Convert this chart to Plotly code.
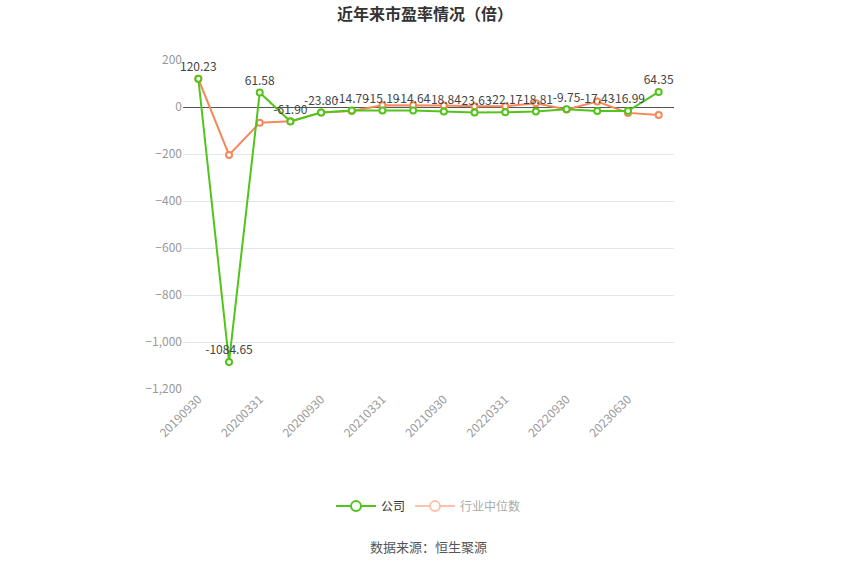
import plotly.graph_objects as go

dates = [
    "20190930", "20191231", "20200331", "20200630", "20200930", "20201231",
    "20210331", "20210630", "20210930", "20211231", "20220331", "20220630",
    "20220930", "20230331", "20230630", "20230930",
]
company_pe = [
    120.23, -1084.65, 61.58, -61.90, -23.80, -14.79, -15.19, -14.64,
    -18.84, -23.63, -22.17, -18.81, -9.75, -17.43, -16.99, 64.35,
]
industry_pe = [
    120.0, -204.0, -67.0, -61.0, -23.0, -17.0, 7.0, 7.0,
    6.0, 3.0, 3.0, 16.0, -11.0, 23.0, -25.0, -34.0,
]
tick_dates = dates[::2]

GREEN = "#52c41a"
ORANGE = "#f5875a"
FONT = "Noto Sans CJK SC"

fig = go.Figure()

fig.add_trace(go.Scatter(
    x=dates, y=industry_pe, mode="lines+markers", name="行业中位数",
    line=dict(color=ORANGE, width=2),
    marker=dict(symbol="circle", size=6, color="white", line=dict(color=ORANGE, width=2)),
    showlegend=False, cliponaxis=False,
))
fig.add_trace(go.Scatter(
    x=dates, y=company_pe, mode="lines+markers+text", name="公司",
    text=[f"{v:.2f}" for v in company_pe], textposition="top center",
    textfont=dict(color="#444", size=12, family=FONT),
    line=dict(color=GREEN, width=2),
    marker=dict(symbol="circle", size=6, color="white", line=dict(color=GREEN, width=2)),
    showlegend=False, cliponaxis=False,
))

# legend entries
fig.add_trace(go.Scatter(
    x=[None], y=[None], mode="lines+markers", name="公司",
    line=dict(color=GREEN, width=2),
    marker=dict(size=10, color="white", line=dict(color=GREEN, width=2)),
))
fig.add_trace(go.Scatter(
    x=[None], y=[None], mode="lines+markers",
    name="<span style='color:#aaa'>行业中位数</span>",
    line=dict(color="#fbc3ab", width=2),
    marker=dict(size=10, color="white", line=dict(color="#fbc3ab", width=2)),
))

fig.update_layout(
    width=850, height=574,
    margin=dict(l=183, r=176, t=60, b=185),
    paper_bgcolor="white", plot_bgcolor="white",
    font=dict(family=FONT, size=12, color="#333"),
    title=dict(text="<b>近年来市盈率情况（倍）</b>", x=0.5, xanchor="center",
               y=0.975, yanchor="middle", font=dict(size=16, color="#333")),
    legend=dict(orientation="h", x=0.5, xanchor="center", y=-0.356, yanchor="middle",
                font=dict(size=12, color="#333"), itemwidth=40),
    annotations=[dict(text="数据来源：恒生聚源", xref="paper", yref="paper",
                      x=0.5, y=-0.515, showarrow=False,
                      font=dict(size=13, color="#555"))],
)
fig.update_xaxes(
    type="category", range=[-0.5, len(dates) - 0.5],
    tickmode="array", tickvals=tick_dates, ticktext=tick_dates,
    tickangle=-45, tickfont=dict(color="#999", size=12),
    showgrid=False, showline=False, ticks="",
)
fig.update_yaxes(
    range=[-1200, 200], dtick=200, tickformat=",",
    tickfont=dict(color="#999", size=12),
    gridcolor="#e0e6f1", zeroline=True, zerolinecolor="#555", zerolinewidth=1,
    showline=False, ticks="",
)

# drop the default body margin so the figure sits at the page corner
fig.write_html("out.html", config={"displayModeBar": False},
               post_script="document.body.style.margin='0';")
